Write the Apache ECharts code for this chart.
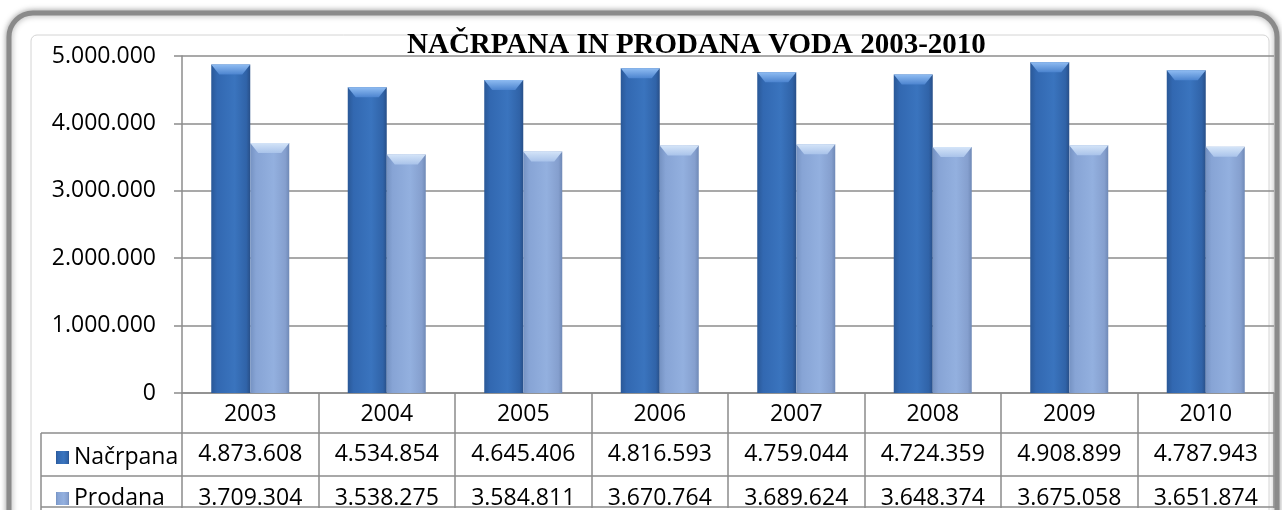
<!DOCTYPE html>
<html>
<head>
<meta charset="utf-8">
<script src="https://cdn.jsdelivr.net/npm/echarts@6/dist/echarts.min.js"></script>
<style>html,body{margin:0;padding:0;background:#fff;}#chart{width:1282px;height:510px;}</style>
</head>
<body>
<div id="chart"></div>
<script>
const years = ['2003', '2004', '2005', '2006', '2007', '2008', '2009', '2010'];
const nacrpana = [4873608, 4534854, 4645406, 4816593, 4759044, 4724359, 4908899, 4787943];
const prodana = [3709304, 3538275, 3584811, 3670764, 3689624, 3648374, 3675058, 3651874];
const seriesNames = ['Načrpana', 'Prodana'];
const titleText = 'NAČRPANA IN PRODANA VODA 2003-2010';

const fmt = v => String(v).replace(/\B(?=(\d{3})+(?!\d))/g, '.');
const FONT = 'Open Sans';
const LINE = '#8c8c8c';

const darkGrad = {type:'linear',x:0,y:0,x2:1,y2:0,colorStops:[
  {offset:0,color:'#2a5897'},{offset:0.15,color:'#3268b1'},{offset:0.6,color:'#3a74be'},{offset:0.9,color:'#3063a8'},{offset:1,color:'#284f88'}]};
const lightGrad = {type:'linear',x:0,y:0,x2:1,y2:0,colorStops:[
  {offset:0,color:'#7592c2'},{offset:0.15,color:'#87a4d5'},{offset:0.6,color:'#93b0df'},{offset:0.9,color:'#859fce'},{offset:1,color:'#6f89b6'}]};
const darkBevel = {type:'linear',x:0,y:0,x2:0,y2:1,colorStops:[{offset:0,color:'#8fbcf2'},{offset:1,color:'#4c84cf'}]};
const lightBevel = {type:'linear',x:0,y:0,x2:0,y2:1,colorStops:[{offset:0,color:'#d4e4f8'},{offset:1,color:'#a9c3ea'}]};
const bevelPath = 'path://M0,0 L39,0 L31,10 L8,10 Z';

const chart = echarts.init(document.getElementById('chart'));
const tableAxis = (offset, values, margin) => ({
  type:'category', data: years, position:'bottom', offset: offset,
  axisLine:{show:true, lineStyle:{color:LINE, width:1.5}},
  axisTick:{show:false},
  axisLabel: values ? {show:true, margin: margin, fontSize:23, fontFamily:FONT, color:'#000',
    formatter:(v, i) => fmt(values[i])} : {show:false},
  splitLine:{show:false}
});
const legendFor = (name, top) => ({data:[name], orient:'vertical', left:51, top:top, itemWidth:13, itemHeight:13,
  selectedMode:false, icon:'rect', textStyle:{fontSize:23, fontFamily:FONT, color:'#000'}});

chart.setOption({
  animation:false,
  backgroundColor:'#fff',
  title:{text:titleText, left:402, top:26,
    textStyle:{fontFamily:'Liberation Serif', fontWeight:'bold', fontSize:29, color:'#000'}},
  grid:{left:182, right:8, top:56, bottom:117, containLabel:false},
  legend:[legendFor(seriesNames[0], 441), legendFor(seriesNames[1], 482)],
  xAxis:[
    {type:'category', data:years, position:'bottom',
      axisLine:{show:true, lineStyle:{color:LINE, width:1.5}},
      axisTick:{show:true, length:115, lineStyle:{color:LINE, width:1.5}},
      axisLabel:{margin:10, fontSize:23, fontFamily:FONT, color:'#000'}},
    tableAxis(40, nacrpana, 10),
    tableAxis(83, prodana, 11),
    {type:'category', data:years, show:false},
    tableAxis(114, null, 0)
  ],
  yAxis:{type:'value', min:0, max:5000000, interval:1000000,
    axisLine:{show:true, lineStyle:{color:LINE, width:1.5}},
    axisTick:{show:true, length:8, lineStyle:{color:LINE, width:1.5}},
    axisLabel:{margin:26, fontSize:23, fontFamily:FONT, color:'#000', formatter:v => fmt(v)},
    splitLine:{show:true, lineStyle:{color:LINE, width:1.5}}},
  graphic:[
    {type:'rect', z:-10, shape:{x:9, y:13, width:1268, height:540, r:24},
      style:{fill:'#fff', stroke:'#8a8a8a', lineWidth:5, shadowBlur:6, shadowColor:'rgba(0,0,0,0.35)'}},
    {type:'rect', z:-9, shape:{x:31, y:35, width:1238, height:520, r:6},
      style:{fill:'#fff', stroke:'#d4d4d4', lineWidth:1}},
    {type:'line', shape:{x1:41, y1:433, x2:182, y2:433}, style:{stroke:LINE, lineWidth:1.5}},
    {type:'line', shape:{x1:41, y1:476, x2:182, y2:476}, style:{stroke:LINE, lineWidth:1.5}},
    {type:'line', shape:{x1:41, y1:507, x2:182, y2:507}, style:{stroke:LINE, lineWidth:1.5}},
    {type:'line', shape:{x1:41, y1:433, x2:41, y2:510}, style:{stroke:LINE, lineWidth:1.5}}
  ],
  series:[
    {name:seriesNames[0], type:'bar', xAxisIndex:0, data:nacrpana, barWidth:39, barGap:'0%',
      itemStyle:{color:darkGrad}},
    {name:seriesNames[1], type:'bar', xAxisIndex:0, data:prodana, barWidth:39, barGap:'0%',
      itemStyle:{color:lightGrad}},
    {name:'bevel1', type:'pictorialBar', xAxisIndex:3, data:nacrpana, barWidth:39, barGap:'0%',
      symbol:bevelPath, symbolSize:[39,10], symbolPosition:'end', z:3, itemStyle:{color:darkBevel}},
    {name:'bevel2', type:'pictorialBar', xAxisIndex:3, data:prodana, barWidth:39, barGap:'0%',
      symbol:bevelPath, symbolSize:[39,10], symbolPosition:'end', z:3, itemStyle:{color:lightBevel}}
  ]
});
</script>
</body>
</html>
